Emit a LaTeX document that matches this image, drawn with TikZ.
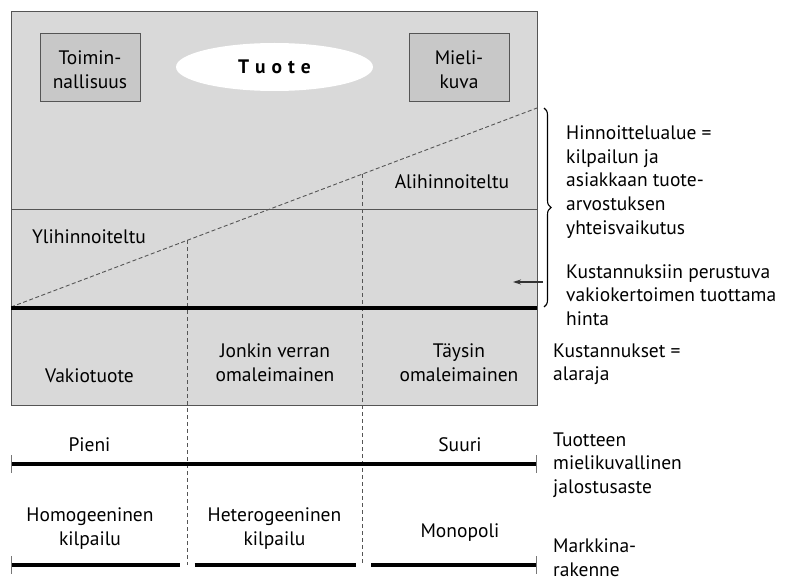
\documentclass[tikz,border=0pt]{standalone}
\usepackage{fontspec}
\setmainfont{PT Sans}
\usetikzlibrary{shapes.geometric,decorations.pathreplacing,arrows.meta}
\definecolor{panel}{HTML}{D9D9D9}
\definecolor{tilegray}{HTML}{C8C8C8}
\definecolor{rim}{HTML}{555555}
\definecolor{tickgray}{HTML}{777777}
\newcommand{\mlines}[2]{\begin{tabular}[t]{@{}#1@{}}#2\end{tabular}}
\begin{document}
\begin{tikzpicture}[x=1pt,y=-1pt,
  txt/.style={font=\fontsize{19.5}{24}\selectfont, inner sep=0pt, anchor=base},
  side/.style={font=\fontsize{19.5}{23.5}\selectfont, inner sep=0pt, anchor=base west},
  tilebox/.style={draw=rim, line width=1pt, fill=tilegray, minimum width=100pt, minimum height=68pt, inner sep=0pt},
  heavy/.style={line width=4pt, black},
  endtick/.style={line width=1.3pt, tickgray},
  vdash/.style={rim, line width=0.8pt, dash pattern=on 4pt off 3pt},
  diag/.style={rim, line width=0.9pt, dash pattern=on 4pt off 2.5pt}]
\useasboundingbox (0,0) rectangle (791,580);

% main panel
\node[draw=rim, fill=panel, line width=1.2pt, minimum width=526pt, minimum height=394pt,
      inner sep=0pt, anchor=north west] (panel) at (11,11) {};
\draw[rim, line width=1pt] (11,209) -- (537,209);

% top row
\node[tilebox] (fun) at (90,68) {};
\node[txt] (funtxt) at (90,64.5) {\mlines{c}{Toimin-\\nallisuus}};
\node[tilebox] (img) at (459,68) {};
\node[txt] (imgtxt) at (459,64.5) {\mlines{c}{Mieli-\\kuva}};
\node[ellipse, fill=white, minimum width=197pt, minimum height=48pt, inner sep=0pt,
      font=\fontsize{19.5}{24}\selectfont\bfseries] (prod) at (274.5,67)
      {T\hspace{6pt}u\hspace{6pt}o\hspace{6pt}t\hspace{6pt}e};

% diagonal and verticals
\coordinate (d0) at (11,307);
\coordinate (d1) at (537,108);
\draw[diag] (d0) -- (d1);
\coordinate (v1t) at (187,240.4);
\coordinate (v1b) at (187,565);
\coordinate (v2t) at (362,174.2);
\coordinate (v2b) at (362,565);
\draw[vdash] (v1t) -- (v1b);
\draw[vdash] (v2t) -- (v2b);

% thick cost line
\draw[heavy] (11,308) -- (537,308);

% labels in panel
\node[txt] (ali) at (452,188) {Alihinnoiteltu};
\node[txt] (yli) at (89,243) {Ylihinnoiteltu};
\node[txt] (vak) at (89.5,382) {Vakiotuote};
\node[txt] (jon) at (275,357) {\mlines{c}{Jonkin verran\\omaleimainen}};
\node[txt] (tay) at (459,357) {\mlines{c}{Täysin\\omaleimainen}};

% scale 1
\node[txt] (pie) at (89.5,451) {Pieni};
\node[txt] (suu) at (460,451) {Suuri};
\draw[heavy] (11.5,464) -- (536.5,464);
\draw[endtick] (11.5,455) -- (11.5,473);
\draw[endtick] (536.5,455) -- (536.5,473);

% scale 2
\node[txt] (hom) at (90,521) {\mlines{c}{Homogeeninen\\kilpailu}};
\node[txt] (het) at (274.5,521) {\mlines{c}{Heterogeeninen\\kilpailu}};
\node[txt] (mon) at (460,537) {Monopoli};
\draw[heavy] (11.5,565) -- (180,565);
\draw[heavy] (194.5,565) -- (356,565);
\draw[heavy] (371,565) -- (536.5,565);
\draw[endtick] (11.5,556) -- (11.5,574);
\draw[endtick] (536.5,556) -- (536.5,574);

% right side
\draw[decorate, decoration={brace, amplitude=7pt}, line width=1.1pt] (544,108) -- (544,307);
\coordinate (arS) at (543,282);
\coordinate (arE) at (513,282);
\draw[black!80, line width=1.1pt, -{Stealth[length=8pt,width=5pt]}] (arS) -- (arE);

\node[side] (hin) at (566,140) {\mlines{l}{Hinnoittelualue =\\kilpailun ja\\asiakkaan tuote-\\arvostuksen\\yhteisvaikutus}};
\node[side] (kus) at (566,278) {\mlines{l}{Kustannuksiin perustuva\\vakiokertoimen tuottama\\hinta}};
\node[side] (ala) at (553,357) {\mlines{l}{Kustannukset =\\alaraja}};
\node[side] (jal) at (553,446) {\mlines{l}{Tuotteen\\mielikuvallinen\\jalostusaste}};
\node[font=\fontsize{19.5}{23.5}\selectfont, inner sep=0pt, align=left, anchor=south west]
      (mar) at (553,576.5) {Markkina-\\rakenne};
\end{tikzpicture}
\end{document}
